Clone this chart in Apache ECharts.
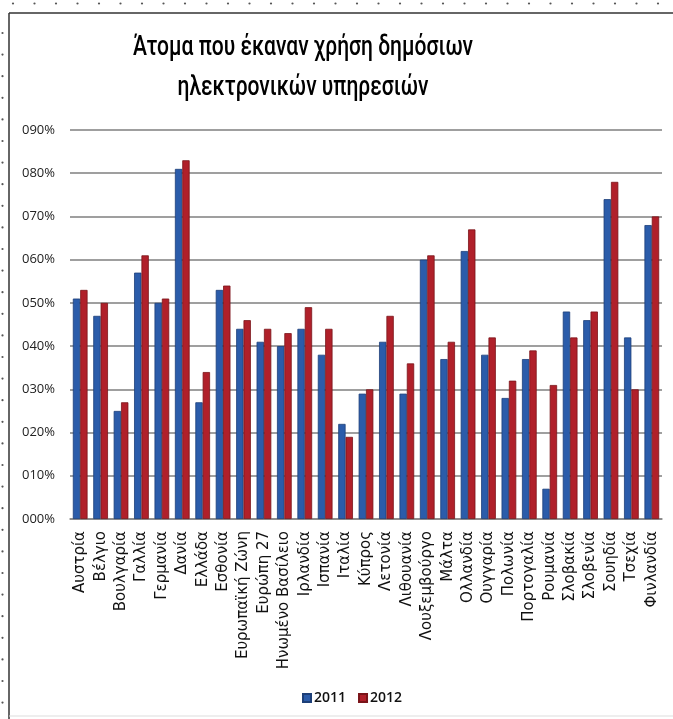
<!DOCTYPE html>
<html>
<head>
<meta charset="utf-8">
<script src="https://cdn.jsdelivr.net/npm/echarts@6/dist/echarts.min.js"></script>
<style>
html,body{margin:0;padding:0;background:#fff;}
#chart{width:673px;height:719px;}
</style>
</head>
<body>
<div id="chart"></div>
<script>
const categories = ['Αυστρία','Βέλγιο','Βουλγαρία','Γαλλία','Γερμανία','Δανία','Ελλάδα','Εσθονία','Ευρωπαϊκή Ζώνη','Ευρώπη 27','Ηνωμένο Βασίλειο','Ιρλανδία','Ισπανία','Ιταλία','Κύπρος','Λετονία','Λιθουανία','Λουξεμβούργο','Μάλτα','Ολλανδία','Ουγγαρία','Πολωνία','Πορτογαλία','Ρουμανία','Σλοβακία','Σλοβενία','Σουηδία','Τσεχία','Φινλανδία'];
const values2011 = [51,47,25,57,50,81,27,53,44,41,40,44,38,22,29,41,29,60,37,62,38,28,37,7,48,46,74,42,68];
const values2012 = [53,50,27,61,51,83,34,54,46,44,43,49,44,19,30,47,36,61,41,67,42,32,39,31,42,48,78,30,70];
const yTickLabels = ['000%','010%','020%','030%','040%','050%','060%','070%','080%','090%'];
const seriesNames = ['2011','2012'];
const titleLines = ['Άτομα που έκαναν χρήση δημόσιων','ηλεκτρονικών υπηρεσιών'];

const chart = echarts.init(document.getElementById('chart'));

const titleFont = '500 28px Roboto, "Liberation Sans", sans-serif';
const mctx = document.createElement('canvas').getContext('2d');
mctx.font = titleFont;
const w1 = mctx.measureText(titleLines[0]).width;
const titleScaleX = 340 / w1;

const deco = [];
for (let x = 13; x < 673; x += 21.5) {
  deco.push({type:'circle', shape:{cx:x, cy:3.5, r:1.1}, style:{fill:'#555'}, silent:true});
}
for (let y = 33; y < 719; y += 21.6) {
  deco.push({type:'circle', shape:{cx:2.5, cy:y, r:1.1}, style:{fill:'#555'}, silent:true});
}
deco.push({type:'line', shape:{x1:9, y1:13, x2:673, y2:13}, style:{stroke:'#333', lineWidth:1.5}, silent:true});
deco.push({type:'line', shape:{x1:9, y1:13, x2:9, y2:719}, style:{stroke:'#333', lineWidth:1.5}, silent:true});
deco.push({type:'line', shape:{x1:9, y1:716, x2:673, y2:716}, style:{stroke:'#ddd', lineWidth:1}, silent:true});
deco.push({type:'text', x:303, y:48, scaleX:titleScaleX, style:{text:titleLines[0], align:'center', textAlign:'center', verticalAlign:'middle', textVerticalAlign:'middle', font:titleFont, fill:'#000'}});
deco.push({type:'text', x:303, y:88, scaleX:titleScaleX, style:{text:titleLines[1], align:'center', textAlign:'center', verticalAlign:'middle', textVerticalAlign:'middle', font:titleFont, fill:'#000'}});

chart.setOption({
  animation:false,
  backgroundColor:'#fff',
  graphic: deco,
  grid:{left:70, right:11, top:130, bottom:200, containLabel:false},
  legend:{
    data:seriesNames, left:297, top:686, icon:'rect', itemWidth:8, itemHeight:8, itemGap:12,
    textStyle:{fontSize:14, fontWeight:600, color:'#111', fontFamily:'"Open Sans", sans-serif', padding:[0,0,0,-2]}
  },
  xAxis:{
    type:'category', data:categories,
    axisTick:{show:false},
    axisLine:{lineStyle:{color:'#888', width:1.5}},
    axisLabel:{rotate:90, interval:0, margin:12, fontSize:15, color:'#111', fontFamily:'"DejaVu Sans", sans-serif'}
  },
  yAxis:{
    type:'value', min:0, max:90, interval:10,
    axisLine:{show:false}, axisTick:{show:false},
    splitLine:{lineStyle:{color:'#7f7f7f', width:1.6}},
    axisLabel:{margin:15, fontSize:13, color:'#222', fontFamily:'"Open Sans", sans-serif',
      formatter:v => yTickLabels[Math.round(v/10)]}
  },
  series:[
    {name:seriesNames[0], type:'bar', data:values2011, barGap:'0%', barCategoryGap:'28%',
     itemStyle:{color:'#2b5caa', borderColor:'#1d3f78', borderWidth:0.8}},
    {name:seriesNames[1], type:'bar', data:values2012, barGap:'0%', barCategoryGap:'28%',
     itemStyle:{color:'#b0202a', borderColor:'#7a1419', borderWidth:0.8}}
  ]
});
</script>
</body>
</html>
